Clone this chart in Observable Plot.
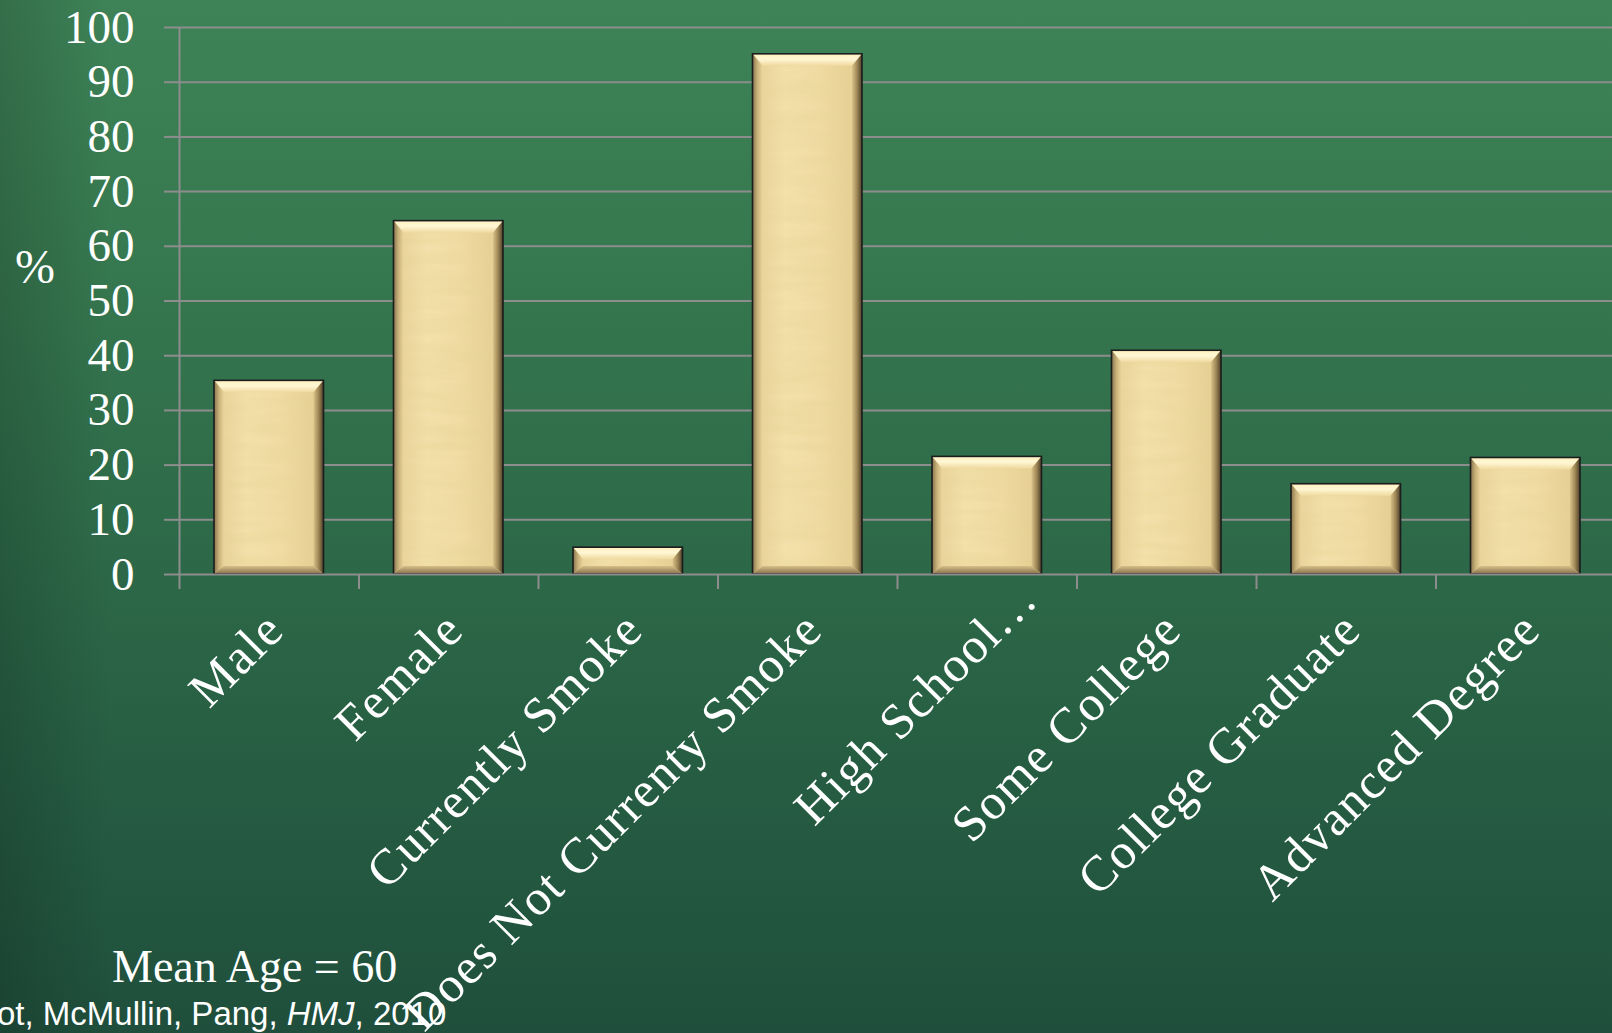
<!DOCTYPE html>
<html>
<head>
<meta charset="utf-8">
<script src="https://cdn.jsdelivr.net/npm/d3@7"></script>
<script src="https://cdn.jsdelivr.net/npm/@observablehq/plot@0.6"></script>
<style>
  html, body { margin: 0; padding: 0; width: 1612px; height: 1033px; overflow: hidden; }
  body {
    position: relative;
    background:
      linear-gradient(90deg, rgba(0,0,0,0.16) 0px, rgba(0,0,0,0.0) 110px),
      linear-gradient(180deg, #3e8358 0%, #36784f 25%, #2e6b49 50%, #265d42 75%, #1f4f3c 100%);
    font-family: "Liberation Serif", serif;
  }
  #chart { position: absolute; left: 0; top: 0; }
  .note { position: absolute; color: #ffffff; white-space: nowrap; line-height: 1; }
  #ylab { left: 15px; top: 243px; font-size: 48px; font-family: "Liberation Serif", serif; }
  #mean { left: 112px; top: 944px; font-size: 46px; font-family: "Liberation Serif", serif; }
  #cite { left: -3px; top: 997px; font-size: 33px; font-family: "Liberation Sans", Arial, sans-serif; }
</style>
</head>
<body>
<div id="chart"></div>
<div class="note" id="ylab"></div>
<div class="note" id="mean"></div>
<div class="note" id="cite"></div>
<script>
// ---- data ----
const categories = ["Male", "Female", "Currently Smoke", "Does Not Currenty Smoke",
                    "High School…", "Some College", "College Graduate", "Advanced Degree"];
const percents = [35.4, 64.6, 4.9, 95.1, 21.5, 40.9, 16.5, 21.3];
const yTicks = [0, 10, 20, 30, 40, 50, 60, 70, 80, 90, 100];
const yLabel = "%";
const meanAgeNote = "Mean Age = 60";
const citeParts = ["ot, McMullin, Pang, ", "HMJ", ", 2010"];

const rows = categories.map((c, i) => ({category: c, index: i, value: percents[i]}));
const gridColor = "#8d8d8d";
const truncated = d => d.category.endsWith("…");
const labelStyle = {x: d => d.index + 0.5, frameAnchor: "bottom", text: d => d.category,
                    rotate: -45, textAnchor: "end", lineAnchor: "bottom",
                    fontSize: 50, fill: "white", fontFamily: "Liberation Serif"};

const plot = Plot.plot({
  width: 1612,
  height: 1033,
  marginLeft: 179,
  marginRight: -3,
  marginTop: 27,
  marginBottom: 459,
  style: {background: "transparent", color: "white", fontFamily: "Liberation Serif", overflow: "visible"},
  x: {domain: [0, categories.length], axis: null},
  y: {domain: [0, 100], axis: null},
  marks: [
    Plot.ruleY(yTicks.filter(t => t > 0), {stroke: gridColor, strokeWidth: 2}),
    Plot.axisY(yTicks, {tickSize: 15, tickPadding: 30, stroke: gridColor, strokeWidth: 2,
                        fill: "white", fontSize: 47, fontFamily: "Liberation Serif", label: null}),
    Plot.ruleX([0], {y1: 0, y2: 100, stroke: gridColor, strokeWidth: 2}),
    Plot.axisX(d3.range(0, categories.length + 1), {tickSize: 15, stroke: gridColor, strokeWidth: 2,
                        tickFormat: () => "", label: null}),
    Plot.rectY(rows, {x1: d => d.index, x2: d => d.index + 1, y1: 0, y2: d => d.value,
                      insetLeft: 35, insetRight: 35, fill: "url(#barFace)", stroke: "none"}),
    Plot.ruleY([0], {stroke: gridColor, strokeWidth: 2}),
    Plot.text(rows, {...labelStyle, filter: d => !truncated(d), dx: 17, dy: 58}),
    Plot.text(rows, {...labelStyle, filter: truncated, dx: 53, dy: 27})
  ]
});

document.getElementById("chart").appendChild(plot);
document.getElementById("ylab").textContent = yLabel;
document.getElementById("mean").textContent = meanAgeNote;
const cite = document.getElementById("cite");
cite.append(citeParts[0]);
const it = document.createElement("i"); it.textContent = citeParts[1]; cite.append(it);
cite.append(citeParts[2]);

// letter spacing for category labels
d3.select(plot).selectAll('g[aria-label="text"] text').style("letter-spacing", "1.5px");

// ---- bevel styling for bars ----
const svg = d3.select(plot);
const defs = svg.insert("defs", ":first-child");
function lg(id, x1, y1, x2, y2, stops) {
  const g = defs.append("linearGradient").attr("id", id)
    .attr("x1", x1).attr("y1", y1).attr("x2", x2).attr("y2", y2);
  stops.forEach(([o, c]) => g.append("stop").attr("offset", o).attr("stop-color", c));
}
lg("barFace", 0, 0, 1, 0, [[0, "#e6d096"], [0.3, "#f3e0aa"], [0.6, "#f1dca3"], [1, "#e3cb90"]]);
lg("bevTop", 0, 0, 0, 1, [[0, "#fff1c0"], [0.45, "#fff7d4"], [1, "#efd99f"]]);
lg("bevLeft", 0, 0, 1, 0, [[0, "#86744d"], [0.5, "#c9b27a"], [1, "#ead59b"]]);
lg("bevRight", 0, 0, 1, 0, [[0, "#dac38a"], [0.5, "#a08857"], [1, "#4c3f29"]]);
lg("bevBottom", 0, 0, 0, 1, [[0, "#d6bf88"], [1, "#85704b"]]);
const f = defs.append("filter").attr("id", "paper").attr("x", 0).attr("y", 0).attr("width", 1).attr("height", 1);
f.append("feTurbulence").attr("type", "fractalNoise").attr("baseFrequency", "0.012 0.09")
  .attr("numOctaves", 3).attr("seed", 7).attr("result", "n");
f.append("feColorMatrix").attr("in", "n").attr("type", "matrix")
  .attr("values", "0 0 0 0 0.78  0 0 0 0 0.66  0 0 0 0 0.30  0.8 0 0 0 -0.25").attr("result", "c");
f.append("feComposite").attr("in", "c").attr("in2", "SourceGraphic").attr("operator", "in").attr("result", "t");
const m = f.append("feMerge");
m.append("feMergeNode").attr("in", "SourceGraphic");
m.append("feMergeNode").attr("in", "t");

svg.selectAll('g[aria-label="rect"] rect').each(function() {
  const r = d3.select(this);
  const x = +r.attr("x"), y = +r.attr("y"), w = +r.attr("width"), h = +r.attr("height");
  const parent = d3.select(this.parentNode);
  r.attr("filter", "url(#paper)");
  const bt = Math.min(12, h / 2), bs = Math.min(10, w / 2), bb = Math.min(8, h / 2);
  const poly = (pts, fill) => parent.append("polygon")
    .attr("points", pts.map(p => p.join(",")).join(" ")).attr("fill", fill);
  poly([[x, y], [x + w, y], [x + w - bs, y + bt], [x + bs, y + bt]], "url(#bevTop)");
  poly([[x, y], [x + bs, y + bt], [x + bs, y + h - bb], [x, y + h]], "url(#bevLeft)");
  poly([[x + w, y], [x + w, y + h], [x + w - bs, y + h - bb], [x + w - bs, y + bt]], "url(#bevRight)");
  poly([[x, y + h], [x + bs, y + h - bb], [x + w - bs, y + h - bb], [x + w, y + h]], "url(#bevBottom)");
  parent.append("rect").attr("x", x).attr("y", y).attr("width", w).attr("height", h)
    .attr("fill", "none").attr("stroke", "#1c1c1c").attr("stroke-width", 1.6);
});
</script>
</body>
</html>
